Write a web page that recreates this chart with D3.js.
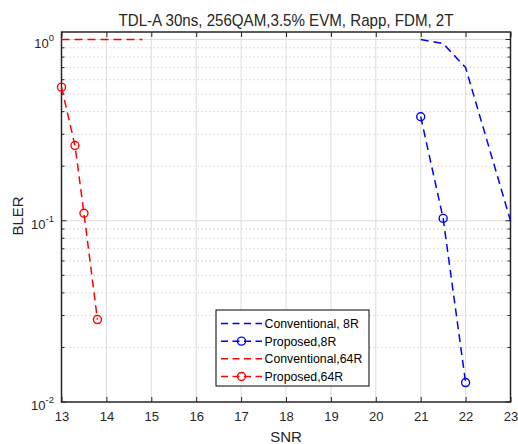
<!DOCTYPE html>
<html>
<head>
<meta charset="utf-8">
<script src="https://cdn.jsdelivr.net/npm/d3@7"></script>
<style>
  html, body { margin: 0; padding: 0; background: #fff; }
  svg { display: block; font-family: "Liberation Sans", Arial, sans-serif; }
</style>
</head>
<body>
<div id="chart"></div>
<script>
// ---- data ----
const titleText = "TDL-A 30ns, 256QAM,3.5% EVM, Rapp, FDM, 2T";
const xTicks = [13, 14, 15, 16, 17, 18, 19, 20, 21, 22, 23];
const yDecades = [-2, -1, 0];

const snrConv8 = [21, 21.5, 22, 23];
const blerConv8 = [1.0, 0.95, 0.70, 0.10];
const snrProp8 = [21, 21.5, 22];
const blerProp8 = [0.375, 0.103, 0.0128];
const snrConv64 = [13, 14.8];
const blerConv64 = [1.0, 1.0];
const snrProp64 = [13, 13.3, 13.5, 13.8];
const blerProp64 = [0.546, 0.26, 0.110, 0.0285];

const seriesNames = ["Conventional, 8R", "Proposed,8R", "Conventional,64R", "Proposed,64R"];

(function () {
// ---- layout ----
const W = 518, H = 444;
const pL = 61.5, pR = 510.5, pT = 32, pB = 402;

const svg = d3.select("#chart").append("svg").attr("width", W).attr("height", H);

const x = d3.scaleLinear().domain([13, 23]).range([pL, pR]);
const y = d3.scaleLog().domain([0.01, 1.1]).range([pB, pT]);

const gridColor = "#dcdcdc";
const axisColor = "#262626";

// vertical grid
svg.append("g").selectAll("line").data(xTicks.slice(1, -1)).join("line")
  .attr("x1", d => x(d)).attr("x2", d => x(d))
  .attr("y1", pT).attr("y2", pB)
  .attr("stroke", gridColor).attr("stroke-width", 1);

// minor horizontal grid (dotted)
const minorVals = [];
[-2, -1].forEach(e => { for (let m = 2; m <= 9; m++) minorVals.push(m * Math.pow(10, e)); });
svg.append("g").selectAll("line").data(minorVals).join("line")
  .attr("x1", pL).attr("x2", pR)
  .attr("y1", d => y(d)).attr("y2", d => y(d))
  .attr("stroke", "#d0d0d0").attr("stroke-width", 1).attr("stroke-dasharray", "1.5,2.5");

// major horizontal grid
svg.append("g").selectAll("line").data([0.1, 1]).join("line")
  .attr("x1", pL).attr("x2", pR)
  .attr("y1", d => y(d)).attr("y2", d => y(d))
  .attr("stroke", gridColor).attr("stroke-width", 1);

// axes via d3 axis (ticks inward)
const xAxisB = d3.axisBottom(x).tickValues(xTicks).tickSize(-5).tickFormat(d3.format("d")).tickPadding(12);
const gxb = svg.append("g").attr("transform", `translate(0,${pB})`).call(xAxisB);
gxb.select(".domain").remove();
gxb.selectAll(".tick line").attr("stroke", axisColor).attr("stroke-width", 1);
gxb.selectAll(".tick text").attr("font-size", 13).attr("fill", "#262626")
  .attr("font-family", "Liberation Sans, Arial, sans-serif").attr("dy", "0.55em");

const xAxisT = d3.axisTop(x).tickValues(xTicks).tickSize(-5).tickFormat("");
const gxt = svg.append("g").attr("transform", `translate(0,${pT})`).call(xAxisT);
gxt.select(".domain").remove();
gxt.selectAll(".tick line").attr("stroke", axisColor).attr("stroke-width", 1);

// y ticks major & minor, left and right
const majorY = yDecades.map(e => Math.pow(10, e));
[[pL, 1], [pR, -1]].forEach(([x0, dir]) => {
  svg.append("g").selectAll("line").data(majorY).join("line")
    .attr("x1", x0).attr("x2", x0 + dir * 5)
    .attr("y1", d => y(d)).attr("y2", d => y(d))
    .attr("stroke", axisColor).attr("stroke-width", 1);
  svg.append("g").selectAll("line").data(minorVals).join("line")
    .attr("x1", x0).attr("x2", x0 + dir * 3)
    .attr("y1", d => y(d)).attr("y2", d => y(d))
    .attr("stroke", axisColor).attr("stroke-width", 1);
});

// y tick labels 10^e
const yl = svg.append("g").attr("font-size", 13).attr("fill", "#262626");
yDecades.forEach(e => {
  const t = yl.append("text").attr("x", 54).attr("y", y(Math.pow(10, e)) + 8).attr("text-anchor", "end");
  t.append("tspan").text("10");
  t.append("tspan").attr("font-size", 9.5).attr("dy", -7).text(String(e));
});

// box
svg.append("rect").attr("x", pL).attr("y", pT).attr("width", pR - pL).attr("height", pB - pT)
  .attr("fill", "none").attr("stroke", axisColor).attr("stroke-width", 1.5);

// lines
const line = d3.line().x(d => x(d[0])).y(d => y(d[1]));
const dash = "8,5";
function drawSeries(xs, ys, color, markers) {
  const pts = xs.map((v, i) => [v, ys[i]]);
  svg.append("path").datum(pts).attr("d", line)
    .attr("fill", "none").attr("stroke", color).attr("stroke-width", 1.5).attr("stroke-dasharray", dash);
  if (markers) {
    svg.append("g").selectAll("circle").data(pts).join("circle")
      .attr("cx", d => x(d[0])).attr("cy", d => y(d[1])).attr("r", 4)
      .attr("fill", "none").attr("stroke", color).attr("stroke-width", 1.4);
  }
}
const blue = "#0000ff", red = "#ff0000";
drawSeries(snrConv8, blerConv8, blue, false);
drawSeries(snrProp8, blerProp8, blue, true);
drawSeries(snrConv64, blerConv64, red, false);
drawSeries(snrProp64, blerProp64, red, true);

// title and labels
svg.append("text").attr("x", 286).attr("y", 25.5).attr("text-anchor", "middle")
  .attr("font-size", 17).attr("fill", "#262626")
  .attr("textLength", 335).attr("lengthAdjust", "spacingAndGlyphs").text(titleText);
svg.append("text").attr("x", 286).attr("y", 442).attr("text-anchor", "middle")
  .attr("font-size", 15).attr("fill", "#262626").text("SNR");
svg.append("text").attr("transform", "translate(23,216) rotate(-90)").attr("text-anchor", "middle")
  .attr("font-size", 15).attr("fill", "#262626").text("BLER");

// legend
const lg = svg.append("g");
const lx = 216, ly = 310, lw = 153, lh = 76;
lg.append("rect").attr("x", lx).attr("y", ly).attr("width", lw).attr("height", lh)
  .attr("fill", "#fff").attr("stroke", "#000").attr("stroke-width", 1);
const legendColors = [blue, blue, red, red];
const legendMarkers = [false, true, false, true];
const rowY = d3.scaleLinear().domain([0, 3]).range([323.5, 376.5]);
seriesNames.forEach((name, i) => {
  const yy = rowY(i);
  lg.append("line").attr("x1", 221).attr("x2", 262).attr("y1", yy).attr("y2", yy)
    .attr("stroke", legendColors[i]).attr("stroke-width", 1.5).attr("stroke-dasharray", "7,4.5");
  if (legendMarkers[i]) lg.append("circle").attr("cx", 241.5).attr("cy", yy).attr("r", 4)
    .attr("fill", "none").attr("stroke", legendColors[i]).attr("stroke-width", 1.4);
  lg.append("text").attr("x", 264.5).attr("y", yy + 4.5).attr("font-size", 12.3).attr("fill", "#000").text(name);
});
})();
</script>
</body>
</html>
